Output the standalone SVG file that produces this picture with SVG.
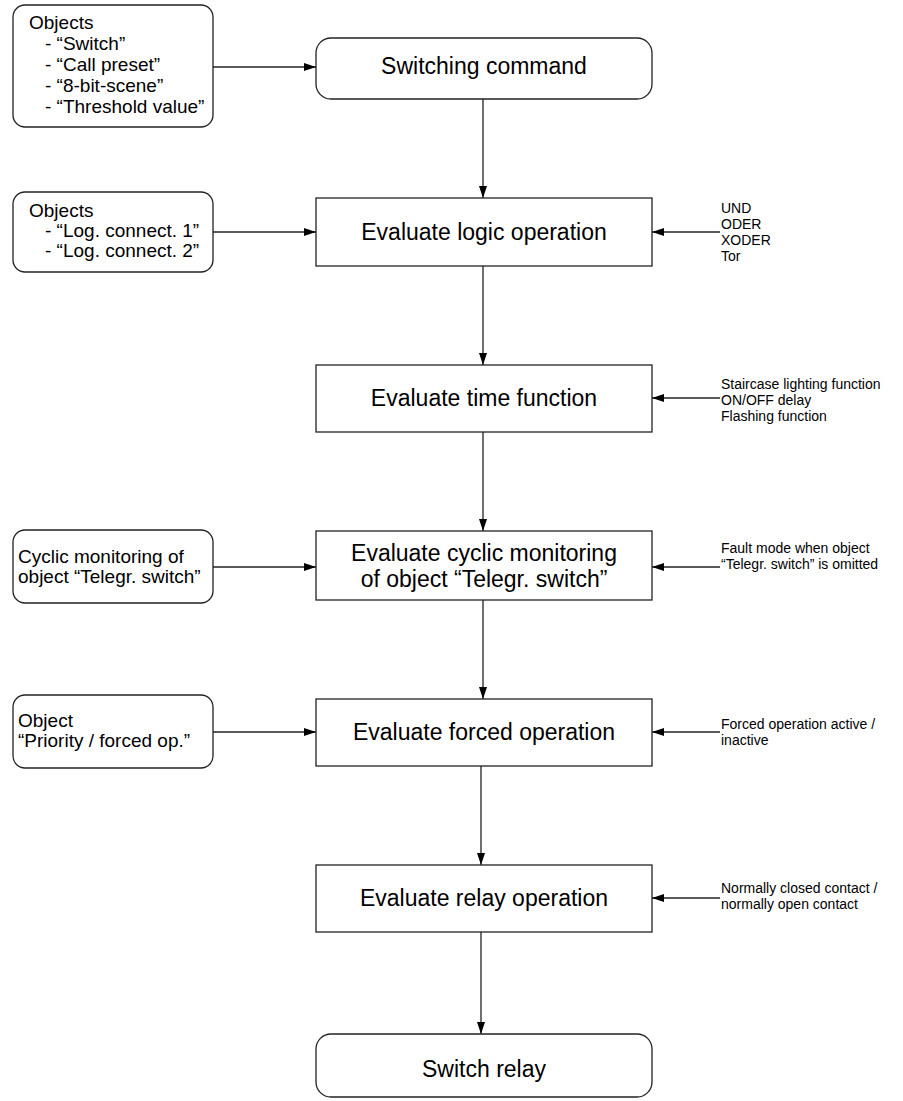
<svg xmlns="http://www.w3.org/2000/svg" width="903" height="1101" viewBox="0 0 903 1101">
<defs>
<marker id="ah" viewBox="0 0 12 8" refX="12" refY="4" markerWidth="12" markerHeight="8" markerUnits="userSpaceOnUse" orient="auto">
<path d="M0,0 L12,4 L0,8 z" fill="#000"/>
</marker>
<style>
.box{fill:#fff;stroke:#222;stroke-width:1.3}
.c{fill:none;stroke:#222;stroke-width:1.3;marker-end:url(#ah)}
.m{font-family:"Liberation Sans",Arial,sans-serif;font-size:23px;fill:#000;text-anchor:middle}
.l{font-family:"Liberation Sans",Arial,sans-serif;font-size:19px;fill:#000}
.r{font-family:"Liberation Sans",Arial,sans-serif;font-size:14px;fill:#000}
</style>
</defs>
<rect width="903" height="1101" fill="#fff"/>
<g id="connectors">
<path class="c" d="M213,67 H316"/>
<path class="c" d="M483,99 V198"/>
<path class="c" d="M213,232 H316"/>
<path class="c" d="M720,232 H652"/>
<path class="c" d="M483,266 V365"/>
<path class="c" d="M720,398 H652"/>
<path class="c" d="M483,432 V531"/>
<path class="c" d="M213,567 H316"/>
<path class="c" d="M720,567 H652"/>
<path class="c" d="M483,600 V699"/>
<path class="c" d="M213,732 H316"/>
<path class="c" d="M720,732 H652"/>
<path class="c" d="M481,766 V865"/>
<path class="c" d="M720,898 H652"/>
<path class="c" d="M481,932 V1034"/>
</g>
<g id="objects1">
<rect class="box" x="13" y="5" width="200" height="122" rx="12"/>
<text class="l" x="29" y="29">Objects</text>
<text class="l" x="45" y="50">- “Switch”</text>
<text class="l" x="45" y="71">- “Call preset”</text>
<text class="l" x="45" y="92">- “8-bit-scene”</text>
<text class="l" x="45" y="113">- “Threshold value”</text>
</g>
<g id="switching">
<rect class="box" x="316" y="38" width="336" height="61" rx="15"/>
<text class="m" x="484" y="74">Switching command</text>
</g>
<g id="objects2">
<rect class="box" x="13" y="192" width="200" height="80" rx="12"/>
<text class="l" x="29" y="217">Objects</text>
<text class="l" x="45" y="237">- “Log. connect. 1”</text>
<text class="l" x="45" y="257">- “Log. connect. 2”</text>
</g>
<g id="logic">
<rect class="box" x="316" y="198" width="336" height="68"/>
<text class="m" x="484" y="240">Evaluate logic operation</text>
</g>
<g id="logic-modes">
<text class="r" x="721" y="213">UND</text>
<text class="r" x="721" y="229">ODER</text>
<text class="r" x="721" y="245">XODER</text>
<text class="r" x="721" y="261">Tor</text>
</g>
<g id="time">
<rect class="box" x="316" y="365" width="336" height="67"/>
<text class="m" x="484" y="406">Evaluate time function</text>
</g>
<g id="time-modes">
<text class="r" x="721" y="389">Staircase lighting function</text>
<text class="r" x="721" y="405">ON/OFF delay</text>
<text class="r" x="721" y="421">Flashing function</text>
</g>
<g id="cyclic-in">
<rect class="box" x="13" y="530" width="200" height="73" rx="12"/>
<text class="l" x="18" y="563">Cyclic monitoring of</text>
<text class="l" x="18" y="583">object “Telegr. switch”</text>
</g>
<g id="cyclic">
<rect class="box" x="316" y="531" width="336" height="69"/>
<text class="m" x="484" y="561">Evaluate cyclic monitoring</text>
<text class="m" x="484" y="587">of object “Telegr. switch”</text>
</g>
<g id="fault">
<text class="r" x="721" y="553">Fault mode when object</text>
<text class="r" x="721" y="569">“Telegr. switch” is omitted</text>
</g>
<g id="priority-in">
<rect class="box" x="13" y="695" width="200" height="73" rx="12"/>
<text class="l" x="18" y="727">Object</text>
<text class="l" x="18" y="747">“Priority / forced op.”</text>
</g>
<g id="forced">
<rect class="box" x="316" y="699" width="336" height="67"/>
<text class="m" x="484" y="740">Evaluate forced operation</text>
</g>
<g id="forced-state">
<text class="r" x="721" y="729">Forced operation active /</text>
<text class="r" x="721" y="745">inactive</text>
</g>
<g id="relay">
<rect class="box" x="316" y="865" width="336" height="67"/>
<text class="m" x="484" y="906">Evaluate relay operation</text>
</g>
<g id="contact">
<text class="r" x="721" y="893">Normally closed contact /</text>
<text class="r" x="721" y="909">normally open contact</text>
</g>
<g id="switch-relay">
<rect class="box" x="316" y="1034" width="336" height="63" rx="15"/>
<text class="m" x="484" y="1077">Switch relay</text>
</g>
</svg>
